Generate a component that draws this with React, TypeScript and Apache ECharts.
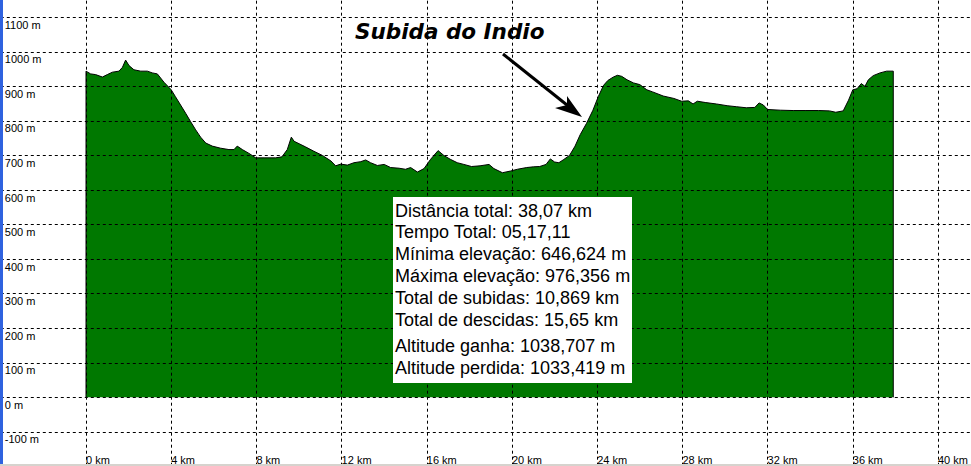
import React, { useEffect, useRef } from "react";
import * as echarts from "echarts";

// Elevation profile: distance (km) and elevation (m)
const distKm = [
  0, 0, 0.22, 0.45, 0.77, 1.0, 1.24, 1.55, 1.71, 1.86, 2.02, 2.25, 2.57, 2.88, 3.11, 3.35, 3.66,
  4.0, 4.2, 4.44, 4.68, 4.91, 5.15, 5.38, 5.62, 5.93, 6.32, 6.71, 6.95, 7.1, 7.34, 7.65, 7.97,
  8.36, 8.9, 9.2, 9.45, 9.64, 9.77, 10.0, 10.3, 10.7, 11.1, 11.5, 11.72, 11.96, 12.27, 12.58,
  12.9, 13.13, 13.36, 13.68, 14.0, 14.3, 14.7, 15.0, 15.24, 15.56, 15.87, 16.18, 16.53, 16.8,
  17.1, 17.43, 17.74, 18.1, 18.5, 18.92, 19.15, 19.55, 19.94, 20.25, 20.69, 21.0, 21.3, 21.6,
  21.8, 22.0, 22.2, 22.4, 22.7, 22.96, 23.2, 23.5, 23.8, 24.05, 24.3, 24.5, 24.76, 24.95, 25.15,
  25.4, 25.7, 26.0, 26.33, 26.6, 27.1, 27.6, 27.96, 28.28, 28.5, 28.7, 29.1, 29.6, 30.1, 30.55,
  31.0, 31.4, 31.6, 31.8, 32.0, 32.6, 33.2, 33.8, 34.4, 34.9, 35.2, 35.55, 35.8, 36.0, 36.2,
  36.4, 36.57, 36.73, 36.96, 37.28, 37.59, 37.9, 37.9,
];
const elevM = [
  0, 944, 936, 934, 927, 934, 941, 944, 955, 976, 960, 948, 944, 944, 939, 936, 912,
  890, 870, 846, 822, 798, 774, 753, 736, 727, 721, 717, 717, 727, 717, 706, 693,
  693, 693, 696, 717, 753, 741, 734, 725, 712, 700, 684, 670, 675, 672, 679,
  682, 687, 679, 671, 674, 665, 663, 660, 665, 652, 662, 689, 714, 700,
  689, 679, 674, 668, 670, 674, 662, 650, 655, 660, 665, 667, 668, 674,
  690, 681, 679, 687, 700, 727, 760, 793, 831, 870, 903, 917, 927, 932, 929,
  919, 910, 905, 890, 884, 872, 865, 857, 858, 849, 857, 853, 849, 844, 841,
  838, 839, 852, 846, 833, 831, 830, 830, 830, 829, 825, 829, 860, 890, 893,
  908, 900, 919, 931, 939, 944, 944, 0,
];

const title = "Subida do Indio";
const statLines = [
  "Distância total: 38,07 km",
  "Tempo Total: 05,17,11",
  "Mínima elevação: 646,624 m",
  "Máxima elevação: 976,356 m",
  "Total de subidas: 10,869 km",
  "Total de descidas: 15,65 km",
  "Altitude ganha: 1038,707 m",
  "Altitude perdida: 1033,419 m",
];
const statBaselines = [216.7, 238.3, 260, 281.7, 304, 326, 351.7, 374.3];

const OY = 18; // chart div is shifted up by this many px

export default function App() {
  const ref = useRef<HTMLDivElement>(null);
  useEffect(() => {
    if (!ref.current) return;
    const chart = echarts.init(ref.current, null, { renderer: "svg" });
    const data = distKm.map((d, i) => [d, elevM[i]]);
    const gridLine = { show: true, lineStyle: { color: "#000", width: 1, type: [3, 3] as any } };
    const graphics: any[] = [
      { type: "rect", z: 10, shape: { x: 0, y: 0, width: 3, height: 500 }, style: { fill: "#2f62df" } },
      { type: "rect", z: 10, shape: { x: 0, y: 464 + OY, width: 1024, height: 3 }, style: { fill: "#d6d3ce" } },
      { type: "rect", z: 10, shape: { x: 393, y: 197 + OY, width: 239, height: 186 }, style: { fill: "#fff" } },
      {
        type: "text", z: 11, x: 355, y: 31 + OY,
        style: {
          text: title, fill: "#000",
          font: "italic bold 21.5px 'DejaVu Sans'", verticalAlign: "middle", align: "left",
        },
      },
      {
        type: "line", z: 11,
        shape: { x1: 503, y1: 54 + OY, x2: 572, y2: 109 + OY },
        style: { stroke: "#000", lineWidth: 3 },
      },
      {
        type: "polygon", z: 11,
        shape: { points: [[582, 117 + OY], [555, 108 + OY], [567, 105 + OY], [567, 96 + OY]] },
        style: { fill: "#000" },
      },
    ];
    statLines.forEach((t, i) => {
      graphics.push({
        type: "text", z: 11, x: 395, y: statBaselines[i] - 6 + OY,
        style: { text: t, fill: "#000", font: "18px 'Liberation Sans'", verticalAlign: "middle", align: "left" },
      });
    });
    chart.setOption({
      animation: false,
      backgroundColor: "#fff",
      grid: { left: 0.8, right: 0.8, top: 0.7, bottom: 0.6, containLabel: false, outerBoundsMode: "none" },
      xAxis: {
        type: "value", min: -4, max: 44, interval: 4, z: 3,
        axisLine: { show: false }, axisTick: { show: false },
        splitLine: gridLine,
        axisLabel: {
          inside: true, margin: 1, align: "left", verticalAlign: "bottom",
          color: "#000", fontFamily: "Liberation Sans", fontSize: 11,
          showMinLabel: false, showMaxLabel: false,
          formatter: (v: number) => (v < 0 || v > 40 ? "" : v + " km"),
        },
      },
      yAxis: {
        type: "value", min: -200, max: 1200, interval: 100, z: 3,
        axisLine: { show: false }, axisTick: { show: false },
        splitLine: gridLine,
        axisLabel: {
          inside: true, margin: 4, align: "left", verticalAlign: "top", padding: [2, 0, 0, 0],
          color: "#000", fontFamily: "Liberation Sans", fontSize: 11,
          showMinLabel: false, showMaxLabel: false,
          formatter: (v: number) => (v < -100 || v > 1100 ? "" : v + " m"),
        },
      },
      series: [
        {
          type: "line", data, symbol: "none", z: 1,
          lineStyle: { color: "#000", width: 1 },
          areaStyle: { color: "#007800", opacity: 1, origin: 0 },
        },
      ],
      graphic: graphics,
    });
    return () => chart.dispose();
  }, []);
  return (
    <div style={{ position: "fixed", left: 0, top: 0, width: 971, height: 466, overflow: "hidden", background: "#fff" }}>
      <div ref={ref} style={{ position: "absolute", left: 0, top: -OY, width: 1024, height: 485 }} />
    </div>
  );
}
